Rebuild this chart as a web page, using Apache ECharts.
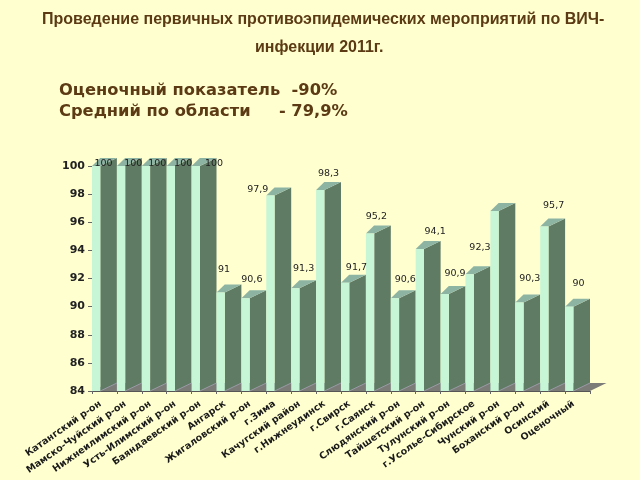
<!DOCTYPE html>
<html><head><meta charset="utf-8">
<style>html,body{margin:0;padding:0;background:#FFFFD0}#c{width:640px;height:480px}</style>
<script src="https://cdn.jsdelivr.net/npm/echarts@6/dist/echarts.min.js"></script>
</head><body><div id="c"></div>
<script>
const categories = ['Катангский р-он','Мамско-Чуйский р-он','Нижнеилимский р-он','Усть-Илимский р-он','Баяндаевский р-он','Ангарск','Жигаловский р-он','г.Зима','Качугский район','г.Нижнеудинск','г.Свирск','г.Саянск','Слюдянский р-он','Тайшетский р-он','Тулунский р-он','г.Усолье-Сибирское','Чунский р-он','Боханский р-он','Осинский','Оценочный'];
const values = [100,100,100,100,100,91,90.6,97.9,91.3,98.3,91.7,95.2,90.6,94.1,90.9,92.3,96.8,90.3,95.7,90];
const valueLabels = ['100','100','100','100','100','91','90,6','97,9','91,3','98,3','91,7','95,2','90,6','94,1','90,9','92,3','','90,3','95,7','90'];
const labelDx = [-1,4,3,4,10,-5,-2,-21,0,0,3,-2,2,7,2,2,0,2,1,1];
const labelDy = [-2,-2,-2,-2,-2,-23,-19,-6,-20,-16,-15,-17,-19,-17,-20,-27,0,-24,-21,-23];
const yTicks = {min:84,max:100,interval:2};
const titleLines = ['Проведение первичных противоэпидемических мероприятий по ВИЧ-','инфекции 2011г.'];
const noteLines = ['Оценочный показатель  -90%','Средний по области     - 79,9%'];

const DX = 16.5, DY = 8, FRONT = 8.3;
const BROWN = '#5b3a14';
const chart = echarts.init(document.getElementById('c'));
chart.setOption({
  backgroundColor:'#FFFFD0',
  animation:false,
  grid:{left:92,right:50,top:166,bottom:89},
  xAxis:{type:'category',data:categories,
    axisLine:{show:true,lineStyle:{color:'#555',width:1}},
    axisTick:{show:true,length:3,lineStyle:{color:'#666'},alignWithLabel:false},
    axisLabel:{interval:0,rotate:35,margin:9,padding:[0,5,0,0],hideOverlap:false,fontFamily:'DejaVu Sans',fontWeight:'bold',fontSize:9.5,color:'#1a1a1a'}},
  yAxis:{type:'value',min:yTicks.min,max:yTicks.max,interval:yTicks.interval,
    splitLine:{show:false},
    axisLine:{show:false},
    axisTick:{show:true,length:4,lineStyle:{color:'#666'}},
    axisLabel:{margin:7,fontFamily:'DejaVu Sans',fontWeight:'bold',fontSize:11,color:'#222'}},
  graphic:[
    {type:'text',left:42,top:12,style:{text:titleLines[0],font:'bold 16px "Liberation Sans"',fill:BROWN}},
    {type:'text',left:255,top:40,style:{text:titleLines[1],font:'bold 16px "Liberation Sans"',fill:BROWN}},
    {type:'text',left:59,top:83,style:{text:noteLines[0],font:'bold 16.3px "DejaVu Sans"',fill:BROWN}},
    {type:'text',left:59,top:104,style:{text:noteLines[1],font:'bold 16.3px "DejaVu Sans"',fill:BROWN}}
  ],
  series:[
    {type:'custom',z:1,silent:true,data:[0],renderItem(p,api){
      const c=p.coordSys;const b=c.y+c.height,l=c.x,r=c.x+c.width;
      return {type:'polygon',shape:{points:[[l,b],[r,b],[r+DX,b-DY],[l+DX,b-DY]]},style:{fill:'#7b7b78'}};
    }},
    {type:'custom',z:2,silent:true,data:values,renderItem(p,api){
      const i=api.value(0), pt=api.coord([i,api.value(1)]), base=api.coord([i,yTicks.min]);
      const band=api.size([1,0])[0], x0=pt[0]-band/2, x1=x0+FRONT, x2=x0+band;
      const t=pt[1], b=base[1];
      return {type:'group',children:[
        {type:'polygon',shape:{points:[[x1,b],[x2,b-DY],[x2,t-DY],[x1,t]]},style:{fill:'#5f7b64'}},
        {type:'line',shape:{x1:x1,y1:b,x2:x2,y2:b-DY},style:{stroke:'#9a9aa6',lineWidth:1}},
        {type:'polygon',shape:{points:[[x0,t],[x1,t],[x2,t-DY],[x0+DX-FRONT,t-DY]]},style:{fill:'#8db3a3'}},
        {type:'rect',shape:{x:x0,y:t,width:FRONT,height:b-t},style:{fill:'#c6f6d6'}}
      ]};
    }},
    {type:'custom',z:3,silent:true,data:values,renderItem(p,api){
      const i=api.value(0), pt=api.coord([i,api.value(1)]);
      return {type:'text',style:{x:pt[0]+labelDx[i],y:pt[1]+labelDy[i],text:valueLabels[i],
        font:'9.5px "DejaVu Sans"',fill:'#222',align:'center',verticalAlign:'middle'}};
    }}
  ]
});
</script></body></html>
